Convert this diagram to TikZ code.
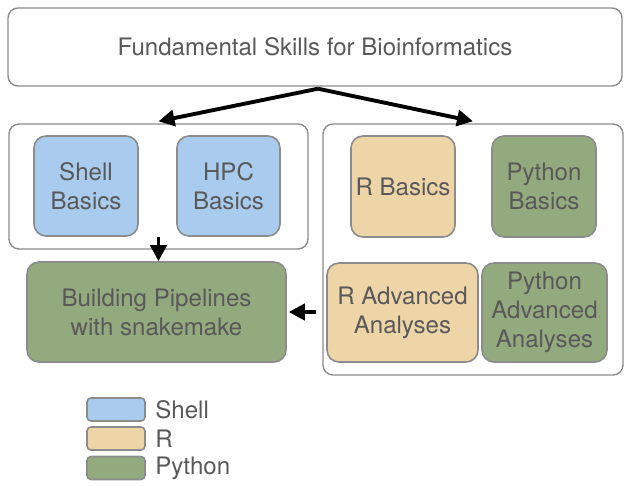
\documentclass[tikz,border=0pt]{standalone}
\usepackage{fontspec}
\setmainfont{TeX Gyre Heros}
\usetikzlibrary{arrows.meta,positioning}

\definecolor{shellblue}{HTML}{A9CCEE}
\definecolor{rtan}{HTML}{EDD5A8}
\definecolor{pygreen}{HTML}{93A97E}
\definecolor{boxgray}{HTML}{8C8C8C}
\definecolor{textgray}{HTML}{595959}

\begin{document}
\begin{tikzpicture}[x=1cm,y=1cm]
\tikzset{
  skillfont/.style={text=textgray,font=\fontsize{13.7}{16.4}\selectfont},
  skillnode/.style={rectangle,rounded corners=0.24cm,draw=boxgray,line width=0.9pt,align=center,inner sep=1pt,skillfont},
  groupbox/.style={rectangle,rounded corners=0.2cm,draw=boxgray,line width=0.8pt,fill=white},
  shellnode/.style={skillnode,fill=shellblue},
  rnode/.style={skillnode,fill=rtan},
  pynode/.style={skillnode,fill=pygreen},
  swatch/.style={rectangle,rounded corners=0.08cm,draw=boxgray,line width=0.9pt,minimum width=1.16cm,minimum height=0.46cm,inner sep=0pt},
  legendtext/.style={anchor=west,inner sep=0pt,skillfont},
  flow/.style={draw=black,line width=2.2pt,-{Triangle[length=3.2mm,width=3.2mm]}}
}
\useasboundingbox (0,0) rectangle (12.60,-9.72);
\node[groupbox,skillfont,minimum width=12.28cm,minimum height=1.56cm] (n_fund) at (6.30,-0.94) {Fundamental Skills for Bioinformatics};
\node[groupbox,minimum width=5.98cm,minimum height=2.50cm] (n_leftgrp) at (3.17,-3.73) {};
\node[groupbox,minimum width=6.00cm,minimum height=5.02cm] (n_rightgrp) at (9.46,-4.99) {};
\node[shellnode,minimum width=2.08cm,minimum height=2.00cm] (n_shell) at (1.72,-3.72) {Shell\\Basics};
\node[shellnode,minimum width=2.06cm,minimum height=2.00cm] (n_hpc) at (4.57,-3.72) {HPC\\Basics};
\node[pynode,minimum width=5.18cm,minimum height=2.00cm] (n_pipe) at (3.13,-6.24) {Building Pipelines\\with snakemake};
\node[rnode,minimum width=2.08cm,minimum height=2.02cm] (n_rbas) at (8.06,-3.73) {R Basics};
\node[pynode,minimum width=2.08cm,minimum height=2.02cm] (n_pybas) at (10.88,-3.73) {Python\\Basics};
\node[rnode,minimum width=3.02cm,minimum height=1.98cm] (n_radv) at (8.05,-6.25) {R Advanced\\Analyses};
\node[pynode,minimum width=2.50cm,minimum height=1.98cm] (n_pyadv) at (10.89,-6.25) {Python\\Advanced\\Analyses};
% legend
\node[swatch,fill=shellblue] (n_swshell) at (2.32,-8.19) {};
\node[swatch,fill=rtan] (n_swr) at (2.32,-8.77) {};
\node[swatch,fill=pygreen] (n_swpy) at (2.32,-9.36) {};
\node[legendtext] (n_lbshell) at (3.10,-8.19) {Shell};
\node[legendtext] (n_lbr) at (3.10,-8.77) {R};
\node[legendtext] (n_lbpy) at (3.10,-9.36) {Python};
% arrows
\draw[flow] ([xshift=0.06cm,yshift=-0.04cm]n_fund.south) -- ([yshift=0.04cm]n_leftgrp.north);
\draw[flow] ([xshift=0.06cm,yshift=-0.04cm]n_fund.south) -- ([yshift=0.04cm]n_rightgrp.north);
\draw[flow] ([yshift=0.26cm]n_leftgrp.south) -- (n_leftgrp.south |- n_pipe.north);
\draw[flow] ([xshift=-0.12cm]n_rightgrp.west |- n_pipe.east) -- ([xshift=0.04cm]n_pipe.east);
\end{tikzpicture}
\end{document}
